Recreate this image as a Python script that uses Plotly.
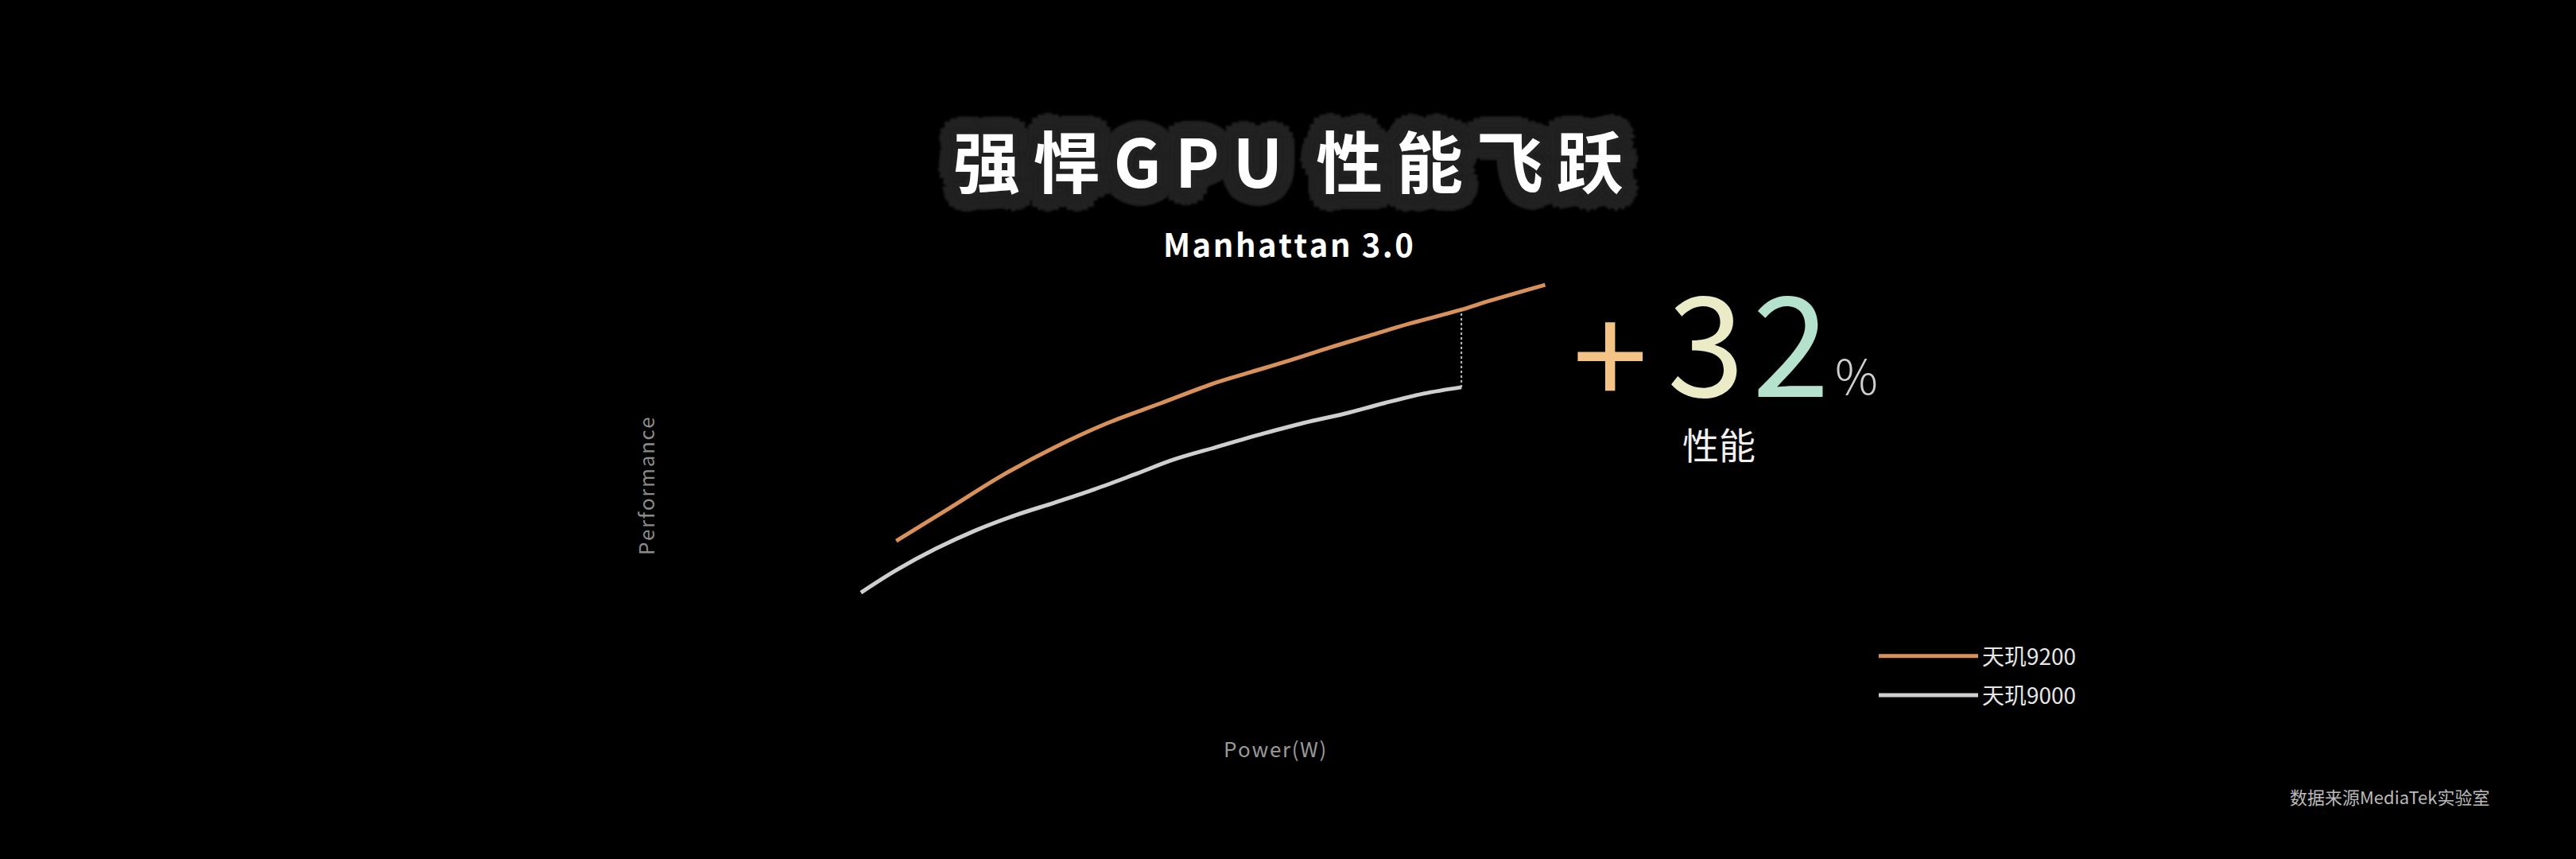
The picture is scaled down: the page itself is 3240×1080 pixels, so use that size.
import math
import plotly.graph_objects as go

# 天玑9200 / 天玑9000 GPU 功耗-性能曲线 (Manhattan 3.0)
power_9200 = [2.13, 2.72, 3.33, 3.93, 4.53, 5.13, 5.74, 6.15, 6.60, 7.05, 7.50, 7.95, 8.53, 8.86, 9.49]
perf_9200 = [3.39, 4.09, 4.82, 5.44, 5.97, 6.40, 6.84, 7.08, 7.34, 7.62, 7.88, 8.14, 8.44, 8.64, 8.99]

power_9000 = [1.73, 2.13, 2.58, 3.03, 3.48, 3.93, 4.38, 4.83, 5.28, 5.74, 6.30, 6.75, 7.21, 7.66, 8.11, 8.54]
perf_9000 = [2.26, 2.75, 3.22, 3.62, 3.95, 4.23, 4.52, 4.84, 5.17, 5.43, 5.74, 5.97, 6.17, 6.40, 6.61, 6.75]

names = ["天玑9200", "天玑9000"]
gain_label = ["+", "3", "2", "%"]

W, H = 3240, 1080
FONT = "Noto Sans CJK SC"


def px(x):
    return x / W


def py(y):
    return 1 - y / H


def spaced(s, sep="\u200a"):
    return sep.join(s)


fig = go.Figure()

fig.add_trace(go.Scatter(
    x=power_9200, y=perf_9200, name=names[0], mode="lines", legendgroup="a",
    line=dict(color="#d8915a", width=5, shape="spline"),
))
fig.add_trace(go.Scatter(
    x=power_9000, y=perf_9000, name=names[1], mode="lines", legendgroup="b",
    line=dict(color="#cfcfcf", width=5, shape="spline"),
))
# 差值虚线
fig.add_trace(go.Scatter(
    x=[power_9000[-1], power_9000[-1]], y=[perf_9000[-1], perf_9200[12]],
    mode="lines", showlegend=False, hoverinfo="skip",
    line=dict(color="#bdbdbd", width=2, dash="dot"),
))

# 标题后面的深灰色光晕
halo_parts = []
for r in [6, 12, 18, 22]:
    for k in range(16):
        a = 2 * math.pi * k / 16
        halo_parts.append(f"{r * math.cos(a):.1f}px {r * math.sin(a):.1f}px 3px #232323")
halo = ", ".join(halo_parts)

ann = [
    dict(x=px(1620), y=py(200), text="强\u2009悍\u2009G\u2009P\u2009U\u2002性\u2009能\u2009飞\u2009跃",
         font=dict(family=FONT, size=84, color="#ffffff", weight="bold", shadow=halo)),
    dict(x=px(1620), y=py(306), text=spaced("Manhattan 3.0"),
         font=dict(family=FONT, size=40, color="#ffffff", weight="bold")),
    dict(x=px(2025), y=py(437), text=gain_label[0], font=dict(family=FONT, size=170, color="#f3c486")),
    dict(x=px(2145), y=py(422), text=gain_label[1], font=dict(family=FONT, size=175, color="#ebebc8")),
    dict(x=px(2252), y=py(422), text=gain_label[2], font=dict(family=FONT, size=175, color="#b4e2cc")),
    dict(x=px(2335), y=py(470), text=gain_label[3], font=dict(family=FONT, size=60, color="#cfcfcf", weight=300)),
    dict(x=px(2162), y=py(557), text="性能", font=dict(family=FONT, size=46, color="#f0f0f0")),
    dict(x=px(811), y=py(611), text=spaced("Performance"), textangle=-90,
         font=dict(family=FONT, size=26, color="#8a8a8a")),
    dict(x=px(1603), y=py(940), text=spaced("Power(W)"), font=dict(family=FONT, size=26, color="#999999")),
    dict(x=px(3005), y=py(1001), text="数据来源MediaTek实验室", font=dict(family=FONT, size=22, color="#bbbbbb")),
]
for a in ann:
    a.update(xref="paper", yref="paper", showarrow=False, xanchor="center", yanchor="middle")

fig.update_layout(
    width=W, height=H,
    paper_bgcolor="#000000", plot_bgcolor="#000000",
    margin=dict(l=0, r=0, t=0, b=0),
    xaxis=dict(domain=[px(891), px(2000)], range=[0, 10], visible=False),
    yaxis=dict(domain=[py(875), py(300)], range=[0, 10], visible=False),
    annotations=ann,
    legend=dict(
        x=px(2358), y=py(800), xanchor="left", yanchor="top",
        itemwidth=125, font=dict(family=FONT, size=28, color="#e6e6e6"),
        traceorder="grouped", tracegroupgap=10,
        bgcolor="rgba(0,0,0,0)",
    ),
    showlegend=True,
)

fig.write_html("out.html", config={"displayModeBar": False},
               post_script="document.body.style.margin='0';document.body.style.background='#000';")
